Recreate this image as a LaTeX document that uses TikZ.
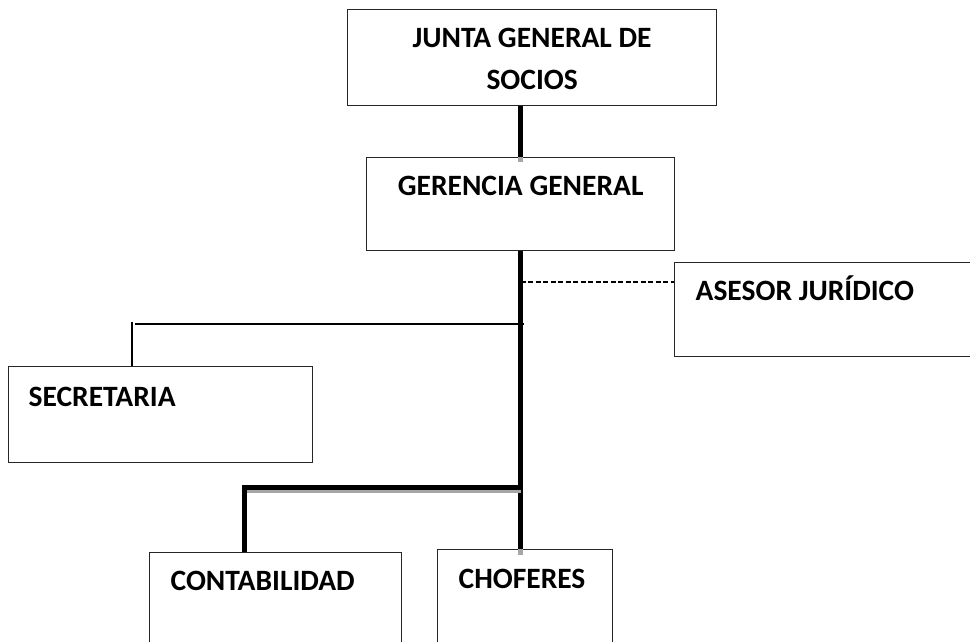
\documentclass[tikz,border=0pt]{standalone}
\usepackage{fontspec}
\setmainfont{Carlito}
\usetikzlibrary{positioning, calc}

\begin{document}
\begin{tikzpicture}[x=1pt,y=-1pt,font=\fontsize{29.5}{42}\selectfont\bfseries,
    unit box/.style={draw=black!85,line width=1.3pt,inner ysep=0pt,anchor=north west},
    thick link/.style={line width=5pt},
    thin link/.style={line width=1.4pt},
    dash link/.style={line width=1.3pt,dash pattern=on 5pt off 2.5pt},
    link shade/.style={gray!70,line width=4pt}]

        \useasboundingbox (0,0) rectangle (970,642);
        \clip (0,0) rectangle (970,642);

        \node[unit box, text width=349pt, inner xsep=10pt, align=flush center, text height=38pt, text depth=58pt] (junta) at (347,9) {JUNTA GENERAL DE\\SOCIOS};
        \node[unit box, text width=288pt, inner xsep=10pt, align=flush center, text height=38pt, text depth=55pt] (gerencia) at (366,157) {GERENCIA GENERAL};
        \node[unit box, text width=284pt, inner xsep=21pt, align=flush left, text height=38pt, text depth=56pt] (asesor) at (674,262) {ASESOR JURÍDICO};
        \node[unit box, text width=264pt, inner xsep=20pt, align=flush left, text height=40pt, text depth=56pt] (secretaria) at (8,366) {SECRETARIA};
        \node[unit box, text width=210pt, inner xsep=21pt, align=flush left, text height=38pt, text depth=90pt] (contab) at (149,552) {CONTABILIDAD};
        \node[unit box, text width=133pt, inner xsep=21pt, align=flush left, text height=39pt, text depth=92pt] (choferes) at (437,549) {CHOFERES};

        % linea principal
        \draw[thick link] (junta.south -| gerencia.north) -- (gerencia.north);
        \draw[link shade, line width=5pt] (gerencia.north) -- ++(0,5);
        \draw[thick link] (gerencia.south) -- (gerencia.south |- choferes.north);
        \draw[link shade, line width=5pt] (gerencia.south |- choferes.north) -- ++(0,6);

        % asesor
        \path (asesor.north west) ++(0,20) coordinate (asesor in);
        \draw[dash link] (asesor in -| gerencia.south) -- (asesor in);

        % secretaria
        \path (secretaria.north west) ++(124,0) coordinate (sec top);
        \draw[thin link] (sec top) -- ++(0,-44);
        \draw[thin link] ([shift={(3,-42)}]sec top) -- ([shift={(3,-42)}]sec top -| gerencia.south);

        % contabilidad y choferes
        \path (contab.north west) ++(95,0) coordinate (cont top);
        \draw[link shade] ([shift={(2,-61)}]cont top) -- ([shift={(0,-61)}]cont top -| gerencia.south);
        \draw[thick link] (cont top) -- ++(0,-65) -- ([shift={(0,-65)}]cont top -| gerencia.south);
\end{tikzpicture}
\end{document}
